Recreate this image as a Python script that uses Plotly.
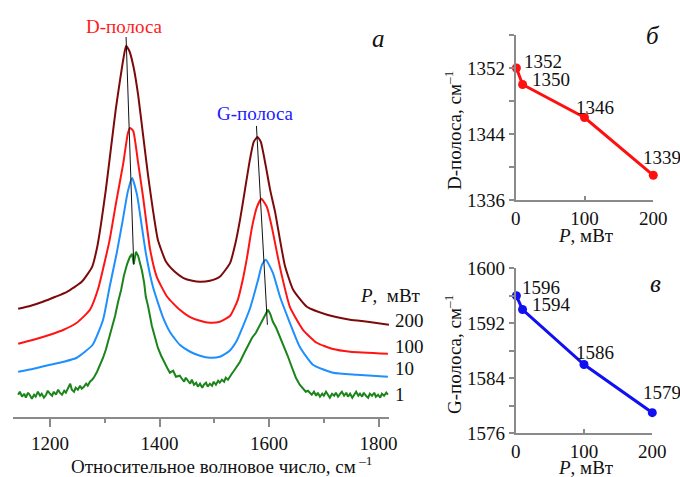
import plotly.graph_objects as go

W, H = 680, 477
FONT = "'Liberation Serif', 'Times New Roman', 'DejaVu Serif', serif"
AXIS_GRAY = "#8a8a8a"

# ---- Raman spectra (wavenumber, cm^-1 ; intensity, arb. units) ----
wn_200 = [1142, 1165, 1187, 1210, 1231, 1258, 1277, 1286, 1293, 1302, 1311, 1320, 1328,
          1334, 1339, 1345, 1353, 1361, 1370, 1379, 1388, 1397, 1412, 1428, 1443, 1460,
          1474, 1492, 1510, 1529, 1538, 1547, 1556, 1565, 1572, 1579, 1585, 1594, 1602,
          1611, 1620, 1629, 1644, 1669, 1706, 1748, 1780, 1819]
int_200 = [108, 111, 115, 120, 125, 135, 150, 169, 192, 227, 267, 307, 337,
           358, 371, 366, 349, 322, 282, 242, 207, 177, 155, 145, 139, 136,
           135, 136, 140, 154, 172, 197, 227, 257, 275, 280, 275, 251, 227,
           205, 177, 151, 127, 110, 102, 97, 95, 92]

wn_100 = [1142, 1170, 1200, 1225, 1249, 1273, 1288, 1300, 1309, 1321, 1334, 1342, 1346,
          1352, 1361, 1370, 1383, 1395, 1414, 1437, 1455, 1474, 1492, 1510, 1529, 1543,
          1552, 1560, 1569, 1578, 1586, 1596, 1605, 1616, 1623, 1638, 1662, 1687, 1715,
          1748, 1817]
int_100 = [73, 77, 82, 87, 94, 107, 128, 155, 177, 215, 254, 283, 289,
           286, 254, 220, 167, 140, 120, 107, 100, 96, 94, 95, 101, 117,
           137, 160, 190, 210, 218, 210, 190, 160, 142, 110, 87, 74, 68,
           65, 63]

wn_10 = [1142, 1170, 1200, 1225, 1249, 1278, 1297, 1309, 1322, 1333, 1342, 1350, 1359,
         1366, 1375, 1388, 1406, 1420, 1437, 1456, 1474, 1492, 1510, 1528, 1541, 1552,
         1565, 1580, 1587, 1594, 1607, 1620, 1638, 1656, 1680, 1717, 1760, 1817]
int_10 = [45, 48, 52, 55, 59, 72, 97, 130, 164, 197, 225, 239, 222,
          197, 164, 130, 100, 84, 72, 65, 61, 59, 60, 66, 76, 90,
          108, 137, 152, 157, 144, 120, 94, 70, 52, 44, 42, 40]

wn_1 = [1142, 1145, 1149, 1153, 1156, 1160, 1164, 1167, 1171, 1174, 1178, 1182, 1185,
        1189, 1193, 1196, 1200, 1204, 1207, 1211, 1215, 1218, 1222, 1226, 1229, 1233,
        1237, 1240, 1244, 1247, 1251, 1255, 1258, 1262, 1266, 1269, 1273, 1277, 1280,
        1286, 1291, 1297, 1302, 1308, 1313, 1319, 1324, 1330, 1335, 1341, 1346, 1350,
        1353, 1357, 1361, 1364, 1368, 1372, 1375, 1379, 1383, 1386, 1392, 1397, 1403,
        1408, 1414, 1419, 1425, 1430,
        1437, 1441, 1445, 1448, 1452, 1456, 1459, 1463, 1467, 1470, 1474, 1478, 1481,
        1485, 1488, 1492, 1496, 1499, 1503, 1507, 1510, 1514, 1518, 1521, 1525, 1529,
        1532, 1536, 1540,
        1547, 1554, 1561, 1569, 1576, 1583, 1589, 1594, 1598, 1602, 1607, 1613, 1620,
        1627, 1634, 1642, 1649,
        1656, 1660, 1664, 1667, 1671, 1675, 1678, 1682, 1686, 1689, 1693, 1697, 1700,
        1704, 1708, 1711, 1715, 1719, 1722, 1726, 1730, 1733, 1737, 1741, 1744, 1748,
        1752, 1755, 1759, 1763, 1766, 1770, 1773, 1777, 1781, 1784, 1788, 1792, 1795,
        1799, 1803, 1806, 1810, 1814, 1817]
int_1 = [22, 25, 20, 23, 19, 24, 21, 18, 22, 20, 25, 21, 23,
         19, 22, 26, 23, 21, 25, 22, 27, 24, 22, 26, 24, 28,
         33, 27, 25, 29, 27, 31, 28, 30, 33, 31, 35, 37, 39,
         45, 51, 59, 67, 79, 89, 101, 114, 127, 141, 153, 160, 163,
         153, 165, 161, 155, 146, 134, 120, 111, 99, 91, 79, 69, 61,
         55, 49, 44, 46, 40,
         41, 38, 35, 39, 36, 33, 37, 32, 34, 30, 33, 29, 32,
         34, 30, 33, 31, 35, 32, 36, 34, 37, 35, 39, 37, 41,
         43, 46, 49,
         55, 63, 71, 79, 84, 91, 97, 102, 107, 103, 95, 89, 80,
         71, 61, 49, 39,
         32, 29, 27, 25, 26, 23, 22, 25, 21, 24, 20, 23, 21,
         25, 22, 19, 23, 21, 24, 20, 23, 25, 21, 24, 20, 23,
         19, 22, 25, 21, 23, 20, 24, 21, 19, 23, 21, 24, 20,
         22, 19, 23, 21, 24, 22]

# thin guides following the D and G band maxima
d_guide_wn = [1339, 1353]
d_guide_int = [380, 152]
g_guide_wn = [1577, 1597]
g_guide_int = [291, 92]

spectra = [
    ("200", wn_200, int_200, "#7d0a0a"),
    ("100", wn_100, int_100, "#ff1414"),
    ("10", wn_10, int_10, "#1e8fff"),
    ("1", wn_1, int_1, "#1b841b"),
]

# ---- band position vs laser power ----
power = [1, 10, 100, 200]
d_band = [1352, 1350, 1346, 1339]
g_band = [1596, 1594, 1586, 1579]


def px(x, y):
    """pixel position -> paper coordinates"""
    return x / W, 1 - y / H


fig = go.Figure()

for name, wn, inten, col in spectra:
    fig.add_trace(go.Scatter(
        x=wn, y=inten, mode="lines", name=name,
        line=dict(color=col, width=2, shape="spline" if name != "1" else "linear",
                  smoothing=0.5),
        xaxis="x", yaxis="y", showlegend=False, hoverinfo="skip"))

for gx, gy in ((d_guide_wn, d_guide_int), (g_guide_wn, g_guide_int)):
    fig.add_trace(go.Scatter(x=gx, y=gy, mode="lines", line=dict(color="#111", width=1),
                             xaxis="x", yaxis="y", showlegend=False, hoverinfo="skip"))

fig.add_trace(go.Scatter(x=power, y=d_band, mode="lines+markers",
                         line=dict(color="#ff1010", width=3),
                         marker=dict(color="#ff1010", size=9),
                         xaxis="x2", yaxis="y2", showlegend=False, cliponaxis=False))
fig.add_trace(go.Scatter(x=power, y=g_band, mode="lines+markers",
                         line=dict(color="#1010f0", width=3),
                         marker=dict(color="#1010f0", size=9),
                         xaxis="x3", yaxis="y3", showlegend=False, cliponaxis=False))

tick_font = dict(family=FONT, size=19, color="#111")

common_axis = dict(showline=True, linecolor=AXIS_GRAY, linewidth=2, showgrid=False,
                   zeroline=False, tickcolor=AXIS_GRAY, tickfont=tick_font,
                   automargin=False)

fig.update_layout(
    width=W, height=H,
    margin=dict(l=0, r=0, t=0, b=0, pad=0, autoexpand=False),
    showlegend=False,
    paper_bgcolor="white", plot_bgcolor="white",
    font=dict(family=FONT, size=19, color="#111"),
    xaxis=dict(domain=[12.7 / W, 389 / W], range=[1132, 1819], anchor="y",
               ticks="outside", ticklen=8, tickwidth=1.5,
               tickvals=[1200, 1400, 1600, 1800],
               minor=dict(tickvals=[1300, 1500, 1700], ticklen=4, tickcolor=AXIS_GRAY,
                          ticks="outside", tickwidth=1.5),
               **common_axis),
    yaxis=dict(domain=[(H - 416.7) / H, (H - 37) / H], range=[0, 380], visible=False,
               anchor="x", automargin=False),
    xaxis2=dict(domain=[515.7 / W, 653.3 / W], range=[0, 200], anchor="y2",
                ticks="inside", ticklen=4, tickwidth=1.5, tickvals=[0, 100, 200],
                **common_axis),
    yaxis2=dict(domain=[(H - 200) / H, (H - 35) / H], range=[1336, 1356], anchor="x2",
                ticks="outside", ticklen=5, tickwidth=1.5,
                tickvals=[1336, 1340, 1344, 1348, 1352, 1356],
                ticktext=["1336", "", "1344", "", "1352", ""],
                **common_axis),
    xaxis3=dict(domain=[515.7 / W, 652.3 / W], range=[0, 200], anchor="y3",
                ticks="inside", ticklen=4, tickwidth=1.5, tickvals=[0, 100, 200],
                **common_axis),
    yaxis3=dict(domain=[(H - 433.3) / H, (H - 268.3) / H], range=[1576, 1600], anchor="x3",
                ticks="outside", ticklen=5, tickwidth=1.5,
                tickvals=[1576, 1580, 1584, 1588, 1592, 1596, 1600],
                ticktext=["1576", "", "1584", "", "1592", "", "1600"],
                **common_axis),
)

ann = []


def text_at(x, y, text, size=19, color="#111", xanchor="center", angle=0):
    ax, ay = px(x, y)
    ann.append(dict(x=ax, y=ay, xref="paper", yref="paper", text=text, showarrow=False,
                    xanchor=xanchor, yanchor="middle", textangle=angle,
                    font=dict(family=FONT, size=size, color=color)))


text_at(124, 27, "D-полоса", color="#ff1a1a")
text_at(255, 113, "G-полоса", color="#1a1aff")
text_at(378, 39, "<i>а</i>", size=25)
text_at(653, 36, "<i>б</i>", size=25)
text_at(655, 283, "<i>в</i>", size=25)
text_at(391, 295, "<i>P</i>,  мВт")
for (name, _, _, _), yy in zip(spectra, [320, 346, 368, 394]):
    text_at(393, yy, name, xanchor="left")
text_at(221, 465, "Относительное волновое число, см<sup> –1</sup>")
text_at(453, 131, "D-полоса, см<sup>–1</sup>", angle=-90)
text_at(453, 355, "G-полоса, см<sup>–1</sup>", angle=-90)
text_at(586, 235, "<i>P</i>, мВт")
text_at(586, 467, "<i>P</i>, мВт")

# value labels next to each point
d_offsets = [("left", 6, 6), ("left", 7, 5), ("center", 10, 10), ("center", 9, 18)]
g_offsets = [("left", 4, 8), ("left", 7, 5), ("center", 11, 12), ("center", 10, 20)]
for axes, vals, offs in (("2", d_band, d_offsets), ("3", g_band, g_offsets)):
    for p, v, (xa, dx, dy) in zip(power, vals, offs):
        ann.append(dict(x=p, y=v, xref="x" + axes, yref="y" + axes, text=str(v),
                        showarrow=False, xanchor=xa, yanchor="middle",
                        xshift=dx, yshift=dy, font=dict(family=FONT, size=19, color="#111")))

fig.update_layout(annotations=ann)
fig.write_html("out.html")
